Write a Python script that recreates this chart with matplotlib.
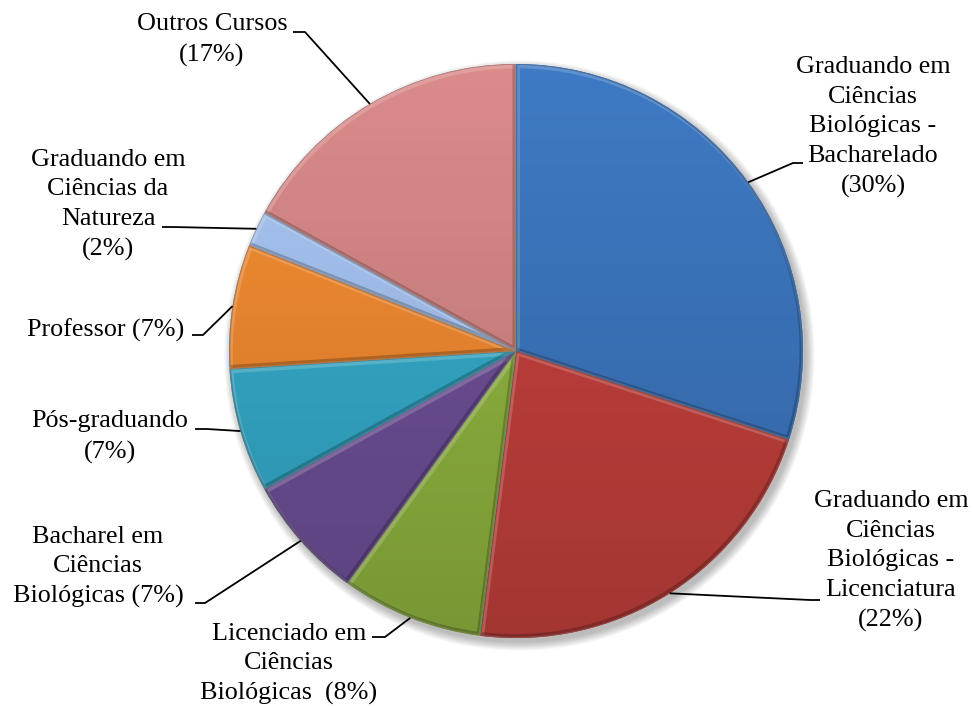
import numpy as np
import matplotlib.pyplot as plt
from matplotlib.colors import to_rgb
from matplotlib.patches import Circle, PathPatch
from matplotlib.transforms import offset_copy

# perfil dos participantes
categorias = [
    "Graduando em\nCiências\nBiológicas -\nBacharelado",
    "Graduando em\nCiências\nBiológicas -\nLicenciatura",
    "Licenciado em\nCiências\nBiológicas ",
    "Bacharel em\nCiências\nBiológicas",
    "Pós-graduando",
    "Professor",
    "Graduando em\nCiências da\nNatureza",
    "Outros Cursos",
]
percentuais = [30, 22, 8, 7, 7, 7, 2, 17]
cores = ["#3A72B8", "#BC3E3A", "#8BAE3D", "#6A4D92",
         "#33A5C3", "#E8852F", "#9FBBE7", "#CD8281"]
# separador entre nome e percentual no rótulo
separadores = ["\n", "\n", " ", " ", "\n", " ", "\n", "\n"]

W, H = 973, 706
CX, CY, R = 516, 351, 287


def px(x, y):
    # pixel -> coordenadas do gráfico (raio 1)
    return (x - CX) / R, (CY - y) / R


# posição do texto e do cotovelo/ponta da linha de chamada (em pixels)
pos_texto = [(873, 127), (891, 561), (289, 664), (98, 567),
             (110, 437), (106, 330), (108, 205), (212, 40)]
cotovelos = [((793, 163), (803, 163)), ((810, 600), (820, 600)),
             ((385, 637), (372, 637)), ((205, 603), (195, 603)),
             ((207, 429), (195, 429)), ((203, 335), (192, 335)),
             ((173, 227), (162, 227)), ((305, 32), (293, 32))]

fig = plt.figure(figsize=(W / 100, H / 100), dpi=100)
ax = fig.add_axes([0, 0, 1, 1])

# sombra suave da pizza
for i in range(8):
    ax.add_patch(Circle((0.012, -0.016), 1.0 + 0.004 * i, color="black",
                        alpha=0.035, lw=0, zorder=0))

wedges, _ = ax.pie(percentuais, colors=cores, startangle=90,
                   counterclock=False, radius=1,
                   wedgeprops=dict(linewidth=0, zorder=1))

# degradê vertical em cada fatia
yy = np.linspace(0, 1, 300)[:, None]
fator = 1.07 - 0.2 * yy
for w, c in zip(wedges, cores):
    base = np.array(to_rgb(c))
    img = np.clip(base[None, None, :] * fator[:, :, None], 0, 1)
    img = np.repeat(img, 2, axis=1)
    im = ax.imshow(img, extent=(-1, 1, -1, 1), interpolation="bilinear",
                   zorder=2)
    im.set_clip_path(w)

    # chanfro: brilho nas bordas de cima, sombra nas de baixo
    luz = PathPatch(w.get_path(), facecolor="none", edgecolor="white",
                    lw=4, alpha=0.18, zorder=3,
                    transform=offset_copy(ax.transData, fig, x=1, y=-1.5,
                                          units="dots"))
    luz.set_clip_path(w)
    ax.add_patch(luz)
    sombra = PathPatch(w.get_path(), facecolor="none", edgecolor="black",
                       lw=3.5, alpha=0.22, zorder=3,
                       transform=offset_copy(ax.transData, fig, x=-1, y=1.5,
                                             units="dots"))
    sombra.set_clip_path(w)
    ax.add_patch(sombra)

# rótulos com linhas de chamada
ang = 90 - 360 * (np.cumsum(percentuais) - np.array(percentuais) / 2) / 100
for nome, p, sep, a, (tx, ty), (cot, ponta) in zip(
        categorias, percentuais, separadores, ang, pos_texto, cotovelos):
    x0, y0 = np.cos(np.radians(a)), np.sin(np.radians(a))
    xc, yc = px(*cot)
    xp, yp = px(*ponta)
    ax.plot([x0, xc, xp], [y0, yc, yp], color="black", lw=1.3, zorder=4,
            solid_capstyle="butt")
    ax.text(*px(tx, ty), f"{nome}{sep}({p}%)", ha="center", va="center",
            fontsize=18.8, family="Liberation Serif", linespacing=1.45)

ax.set_xlim(-CX / R, (W - CX) / R)
ax.set_ylim(-(H - CY) / R, CY / R)
ax.set_aspect("equal")
ax.axis("off")

fig.savefig("out.png", dpi=100)
